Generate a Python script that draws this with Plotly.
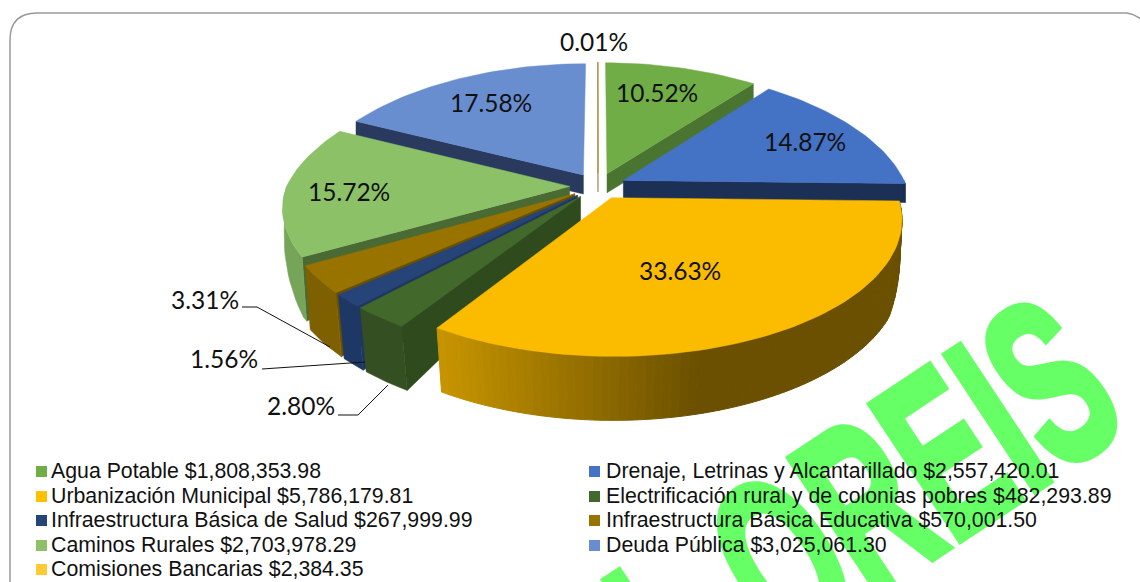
import math
import plotly.graph_objects as go

# ---- data ----
categories = ["Agua Potable", "Drenaje, Letrinas y Alcantarillado", "Urbanización Municipal",
              "Electrificación rural y de colonias pobres", "Infraestructura Básica de Salud",
              "Infraestructura Básica Educativa", "Caminos Rurales", "Deuda Pública", "Comisiones Bancarias"]
amounts = [1808353.98, 2557420.01, 5786179.81, 482293.89, 267999.99, 570001.50, 2703978.29, 3025061.30, 2384.35]
pct_labels = ["10.52%", "14.87%", "33.63%", "2.80%", "1.56%", "3.31%", "15.72%", "17.58%", "0.01%"]

# ---- styles ----
top_col = ["#70AD47", "#4472C4", "#FBBC00", "#43682B", "#264478", "#997300", "#8CC168", "#698ED0", "#B89B50"]
rad_col = ["#4A7530", "#1C2F54", "#6A5000", "#2F4A1C", "#1E3663", "#6A5000", "#4A6A34", "#2A3A5E", "#7A6020"]
out_col = ["#4A7530", "#1C2F54", None, "#344F22", "#1E3866", "#7F6000", "#76A55A", "#2A3A5E", "#7A6020"]
leg_col = ["#70AD47", "#4472C4", "#FFC000", "#43682B", "#264478", "#997300", "#8CC168", "#698ED0", "#FFCA33"]
draw_order = [7, 8, 0, 1, 6, 5, 4, 3, 2]

CX, CY, R, S, K, EXPL = 598, 186, 283, 131, 0.15, 0.10
LABEL = "Lato"
LEG = "Liberation Sans"


def proj(u, v):
    wy = 1 + K * v
    wx = 1 + (0.2 if v > 0 else 0.15) * v
    return CX + R * u / wx, CY - S * v / wy


def depth(v):
    return 19 + (45 * min(1.0, -2.1 * v) if v < 0 else 0)


def top_pt(theta, mid):
    t, m = math.radians(theta), math.radians(mid)
    return proj(math.sin(t) + EXPL * math.sin(m), math.cos(t) + EXPL * math.cos(m))


def base_pt(theta, mid):
    t, m = math.radians(theta), math.radians(mid)
    u = math.sin(t) + EXPL * math.sin(m)
    v = math.cos(t) + EXPL * math.cos(m)
    x, y = proj(u, v)
    return CX + (x - CX) * (1 - 0.03 * max(-v, 0)), y + depth(v)


def apex(mid):
    m = math.radians(mid)
    return proj(EXPL * math.sin(m), EXPL * math.cos(m))


def poly(fig, pts, color, line=0.5):
    fig.add_trace(go.Scatter(x=[p[0] for p in pts] + [pts[0][0]], y=[p[1] for p in pts] + [pts[0][1]],
                             mode="lines", fill="toself", fillcolor=color,
                             line=dict(color=color, width=line), hoverinfo="skip", showlegend=False))


total = sum(amounts)
fracs = [a / total for a in amounts]
starts, c = [], 0.0
for f in fracs:
    starts.append(c * 360)
    c += f

fig = go.Figure()


def mix(a, b, t):
    return "rgb(%d,%d,%d)" % tuple(a[i] + (b[i] - a[i]) * t for i in range(3))


for i in draw_order:
    a0, a1 = starts[i], starts[i] + fracs[i] * 360
    mid = (a0 + a1) / 2
    ap = apex(mid)
    ab = (ap[0], ap[1] + depth(math.cos(math.radians(mid)) * EXPL))
    # radial walls facing the viewer
    if 180 <= a0 < 360:
        poly(fig, [ap, top_pt(a0, mid), base_pt(a0, mid), ab], rad_col[i])
    if 0 <= a1 <= 180:
        poly(fig, [ap, top_pt(a1, mid), base_pt(a1, mid), ab], rad_col[i])
    # outer wall on the front half
    w0, w1 = max(a0, 90), min(a1, 270)
    if w1 > w0:
        n = max(2, int((w1 - w0) / 1.5))
        th = [w0 + (w1 - w0) * k / n for k in range(n + 1)]
        if out_col[i] is None:
            for k in range(n):
                x_mid = top_pt((th[k] + th[k + 1]) / 2, mid)[0]
                t = min(max((x_mid - 440) / 260, 0), 1)
                col = mix((199, 149, 0), (106, 80, 0), t)
                poly(fig, [top_pt(th[k], mid), top_pt(th[k + 1], mid), base_pt(th[k + 1], mid), base_pt(th[k], mid)], col, 1)
        else:
            poly(fig, [top_pt(t, mid) for t in th] + [base_pt(t, mid) for t in reversed(th)], out_col[i])
    # top face
    n = max(2, int((a1 - a0) / 1.5))
    arc = [top_pt(a0 + (a1 - a0) * k / n, mid) for k in range(n + 1)]
    poly(fig, [ap] + arc, top_col[i], 1 if fracs[i] < 0.001 else 0.5)

# watermark (first annotation, so it stays under the legend text)
fig.add_annotation(x=864, y=505, text="<b>L OREIS</b>", textangle=-33.5, showarrow=False,
                   font=dict(family="Liberation Sans", size=235, color="#66FF66"))

# pct labels inside / outside
pct_pos = [(657, 92), (805, 141), (680, 270), (301, 405), (224, 358), (205, 299), (349, 191), (491, 102), (594, 41)]
for i, (x, y) in enumerate(pct_pos):
    fig.add_annotation(x=x, y=y, text=pct_labels[i], showarrow=False,
                       font=dict(family=LABEL, size=24.5, color="#111111"))

# legend
leg_x = [36, 589]
leg_tx = [49, 604]
leg_y = [471, 496, 520, 545, 569]
for i, cat in enumerate(categories):
    col, row = i % 2, i // 2
    txt = f"{cat} ${amounts[i]:,.2f}"
    fig.add_annotation(x=leg_tx[col], y=leg_y[row], text=txt, xanchor="left", showarrow=False,
                       font=dict(family=LEG, size=21.3, color="#111111"))
    fig.add_shape(type="rect", x0=leg_x[col], x1=leg_x[col] + 11, y0=leg_y[row] - 5, y1=leg_y[row] + 6,
                  fillcolor=leg_col[i], line_width=0)

# leader lines
shapes = [
    dict(type="path", path="M242,307 L257,307 L330,347", line=dict(color="#111111", width=1)),
    dict(type="path", path="M262,369 L365,362", line=dict(color="#111111", width=1)),
    dict(type="path", path="M338,415 L358,415 L388,385", line=dict(color="#111111", width=1)),
    dict(type="path", layer="below",
         path="M10,582 L10,40 Q10,13 37,13 L1127,13 Q1134,14 1141,19",
         line=dict(color="#999999", width=1.5)),
]
for s in shapes:
    fig.add_shape(**s)

fig.update_xaxes(range=[0, 1140], visible=False, fixedrange=True)
fig.update_yaxes(range=[582, 0], visible=False, fixedrange=True)
fig.update_layout(width=1140, height=582, margin=dict(l=0, r=0, t=0, b=0), paper_bgcolor="white",
                  plot_bgcolor="white", showlegend=False)

# page margin off; condense the oversized watermark text along its baseline
post = """
document.body.style.margin='0';document.body.style.overflow='hidden';
document.querySelectorAll('.annotation text').forEach(function(t){
  if(t.textContent.indexOf('OREIS')>=0){
    t.setAttribute('textLength','536');t.setAttribute('lengthAdjust','spacingAndGlyphs');
    t.style.stroke='#66FF66';t.style.strokeWidth='8px';
  }
});
"""
fig.write_html("out.html", post_script=post, config={"displayModeBar": False})
